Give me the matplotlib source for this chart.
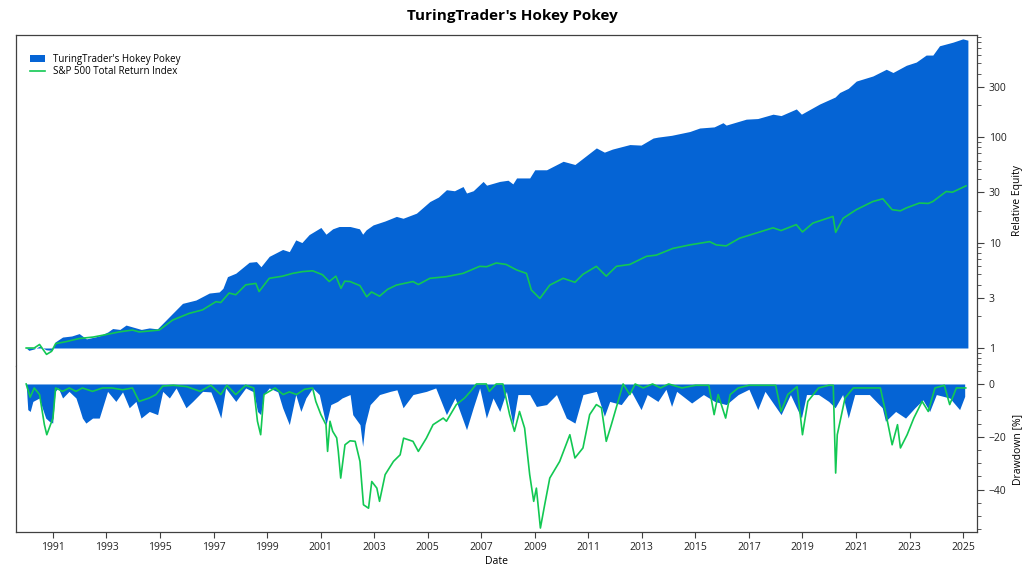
import matplotlib
matplotlib.use('Agg')
import matplotlib.pyplot as plt
from matplotlib.patches import Patch
from matplotlib.lines import Line2D
from matplotlib.ticker import FixedLocator, LogLocator, MultipleLocator, NullFormatter

# dados (ano decimal, valor)
anos_est = [1990.0, 1990.1, 1990.3, 1990.5, 1990.75, 1990.98, 1991.08, 1991.36, 1991.7, 1991.98,
            1992.25, 1992.73, 1993.05, 1993.23, 1993.5, 1993.73, 1994.3, 1994.6, 1994.9, 1995.1,
            1995.47, 1995.84, 1996.34, 1996.84, 1997.21, 1997.35, 1997.52, 1997.83, 1998.33, 1998.6,
            1998.77, 1999.08, 1999.58, 1999.83, 2000.07, 2000.3, 2000.57, 2001.01, 2001.2, 2001.45,
            2001.69, 2002.1, 2002.45, 2002.57, 2002.7, 2002.96, 2003.4, 2003.83, 2004.08, 2004.58,
            2005.08, 2005.4, 2005.7, 2006.0, 2006.32, 2006.45, 2006.7, 2007.07, 2007.2, 2007.69,
            2008.0, 2008.18, 2008.32, 2008.81, 2009.0, 2009.44, 2010.06, 2010.5, 2010.8, 2011.3,
            2011.6, 2011.9, 2012.55, 2012.97, 2013.42, 2013.6, 2014.11, 2014.79, 2015.16, 2015.7,
            2016.03, 2016.15, 2016.9, 2017.33, 2017.9, 2018.2, 2018.77, 2018.96, 2019.64, 2020.22,
            2020.39, 2020.71, 2021.01, 2021.63, 2022.13, 2022.38, 2022.88, 2023.25, 2023.62, 2023.87,
            2024.12, 2024.62, 2024.99, 2025.18]
equity_est = [1.0, 0.95, 0.98, 1.04, 0.96, 0.95, 1.14, 1.27, 1.3, 1.37,
              1.22, 1.3, 1.42, 1.53, 1.5, 1.65, 1.5, 1.55, 1.52, 1.71,
              2.13, 2.65, 2.85, 3.32, 3.4, 3.68, 4.75, 5.12, 6.5, 6.6,
              5.9, 7.4, 8.6, 8.2, 10.6, 10.0, 11.9, 13.9, 12.0, 13.5,
              14.2, 14.2, 13.5, 12.0, 13.2, 14.7, 16.0, 17.7, 17.0, 19.0,
              24.5, 27, 31.7, 31, 34, 29.5, 31, 38, 35, 38,
              39, 36, 41, 41, 49, 49, 59, 55, 63, 79,
              72, 77, 85, 84, 98, 100, 104, 113, 122, 125,
              137, 130, 148, 150, 165, 160, 185, 165, 206, 240,
              265, 290, 340, 380, 440, 410, 480, 515, 600, 600,
              735, 795, 855, 830]

anos_spx = [1990.0, 1990.3, 1990.5, 1990.76, 1990.95, 1991.1, 1991.5, 1991.98, 1992.5, 1992.85,
            1993.47, 1993.97, 1994.22, 1994.97, 1995.47, 1996.09, 1996.59, 1997.09, 1997.27, 1997.58,
            1997.83, 1998.2, 1998.58, 1998.7, 1999.08, 1999.58, 1999.95, 2000.32, 2000.7, 2001.07,
            2001.32, 2001.57, 2001.76, 2001.9, 2002.1, 2002.47, 2002.72, 2002.9, 2003.2, 2003.5,
            2003.83, 2004.45, 2004.65, 2005.08, 2005.7, 2006.32, 2006.94, 2007.2, 2007.56, 2007.93,
            2008.32, 2008.69, 2008.87, 2009.19, 2009.56, 2010.06, 2010.5, 2010.8, 2011.3, 2011.67,
            2012.05, 2012.55, 2013.17, 2013.54, 2014.16, 2014.79, 2015.53, 2015.78, 2016.15, 2016.65,
            2017.27, 2017.9, 2018.2, 2018.77, 2019.0, 2019.39, 2020.14, 2020.24, 2020.52, 2021.01,
            2021.63, 2022.0, 2022.35, 2022.66, 2022.88, 2023.37, 2023.7, 2023.87, 2024.37, 2024.6,
            2025.11]
equity_spx = [1.0, 1.0, 1.08, 0.87, 0.93, 1.10, 1.15, 1.23, 1.27, 1.32,
              1.42, 1.48, 1.42, 1.48, 1.84, 2.13, 2.3, 2.75, 2.7, 3.32,
              3.2, 3.97, 4.1, 3.43, 4.58, 4.8, 5.1, 5.3, 5.4, 4.95,
              4.27, 4.8, 3.68, 4.3, 4.27, 3.9, 3.06, 3.4, 3.1, 3.6,
              3.95, 4.27, 4.0, 4.58, 4.75, 5.1, 5.95, 5.9, 6.4, 6.2,
              5.5, 5.1, 3.55, 2.95, 3.95, 4.58, 4.2, 5.0, 5.95, 4.8,
              5.95, 6.2, 7.4, 7.6, 8.8, 9.5, 10.2, 9.5, 9.3, 11,
              12.3, 13.8, 13.0, 14.8, 12.6, 15.3, 17.7, 12.5, 17, 20.5,
              24.5, 26, 20.5, 20.0, 21.3, 23.7, 23.5, 24.5, 30.5, 30,
              34.5]

anos_dd_est = [1990.0, 1990.06, 1990.15, 1990.25, 1990.49, 1990.6, 1990.73, 1990.86, 1990.99, 1991.08,
               1991.2, 1991.36, 1991.6, 1991.86, 1991.98, 1992.1, 1992.23, 1992.48, 1992.73, 1992.85,
               1993.04, 1993.35, 1993.6, 1993.85, 1994.1, 1994.29, 1994.6, 1994.91, 1995.1, 1995.35,
               1995.6, 1995.97, 1996.22, 1996.59, 1996.9, 1997.09, 1997.27, 1997.45, 1997.83, 1998.2,
               1998.5, 1998.64, 1998.76, 1998.88, 1999.08, 1999.4, 1999.58, 1999.83, 2000.07, 2000.26,
               2000.45, 2000.7, 2000.95, 2001.2, 2001.38, 2001.63, 2001.8, 2002.1, 2002.2, 2002.47,
               2002.57, 2002.66, 2002.85, 2003.2, 2003.6, 2003.85, 2004.08, 2004.45, 2004.95, 2005.3,
               2005.7, 2006.02, 2006.45, 2006.7, 2006.94, 2007.19, 2007.44, 2007.69, 2007.94, 2008.18,
               2008.37, 2008.81, 2009.06, 2009.44, 2009.81, 2010.18, 2010.5, 2010.8, 2011.3, 2011.6,
               2011.8, 2012.23, 2012.6, 2012.97, 2013.2, 2013.6, 2013.9, 2014.11, 2014.3, 2014.86,
               2015.3, 2015.72, 2016.15, 2016.6, 2017.0, 2017.33, 2017.6, 2018.2, 2018.55, 2018.96,
               2019.15, 2019.6, 2019.98, 2020.22, 2020.5, 2020.71, 2020.95, 2021.5, 2021.98, 2022.1,
               2022.48, 2022.85, 2023.2, 2023.5, 2023.75, 2024.0, 2024.5, 2024.87, 2025.06]
dd_est = [0, -9.7, -10.4, -6.6, -5.3, -9, -12.9, -14.1, -14.8, -2.8,
          -1.5, -5.3, -2.8, -5.3, -9, -12.9, -14.8, -12.9, -12.9, -9,
          -2.8, -6.6, -3, -9, -6.6, -12.9, -10.4, -11.6, -2.8, -5.3,
          -1.5, -9, -6.6, -2.8, -3, -7.8, -12.9, -1.5, -6.6, -1.5,
          -3, -10.4, -11.6, -4, -1.5, -3, -9, -15.4, -4, -10.4,
          -5.3, -1.5, -4, -15.4, -7.8, -6.6, -5.3, -4, -11.6, -15.4,
          -23.6, -15.4, -7.8, -4, -2.8, -2.2, -9, -4, -2.8, -1.5,
          -11.6, -5.3, -17.3, -9, -1.5, -12.9, -5.3, -10.4, -2.8, -15.4,
          -4, -4, -8.5, -7.8, -4, -12.9, -14.8, -4, -2.8, -12.2,
          -6.6, -7.8, -2.8, -9.7, -4, -6.6, -2, -8.5, -2.8, -7.2,
          -4, -6.6, -7.8, -4, -2, -9.7, -2.8, -11.6, -4, -12.9,
          -4, -4, -6.6, -9, -4, -12.9, -4, -4, -9, -14.1,
          -10.4, -12.9, -9, -6, -10.4, -4, -5.3, -9.7, -4.7]

anos_dd_spx = [1990.0, 1990.15, 1990.3, 1990.5, 1990.68, 1990.77, 1990.86, 1991.0, 1991.1, 1991.36,
               1991.61, 1991.86, 1992.1, 1992.48, 1992.85, 1993.2, 1993.6, 1993.97, 1994.22, 1994.6,
               1994.85, 1995.1, 1995.5, 1996.0, 1996.5, 1996.9, 1997.27, 1997.5, 1997.83, 1998.2,
               1998.5, 1998.64, 1998.76, 1998.88, 1999.3, 1999.6, 1999.83, 2000.1, 2000.4, 2000.7,
               2000.82, 2001.01, 2001.2, 2001.26, 2001.35, 2001.45, 2001.6, 2001.66, 2001.75, 2001.91,
               2002.1, 2002.29, 2002.47, 2002.6, 2002.79, 2002.91, 2003.1, 2003.2, 2003.41, 2003.72,
               2003.97, 2004.1, 2004.45, 2004.65, 2004.95, 2005.2, 2005.58, 2005.7, 2006.07, 2006.38,
               2006.6, 2006.82, 2007.19, 2007.3, 2007.56, 2007.81, 2008.06, 2008.24, 2008.43, 2008.62,
               2008.81, 2008.96, 2009.06, 2009.21, 2009.37, 2009.56, 2009.93, 2010.31, 2010.5, 2010.8,
               2011.05, 2011.3, 2011.49, 2011.67, 2011.86, 2012.11, 2012.3, 2012.55, 2012.75, 2013.05,
               2013.4, 2013.7, 2014.0, 2014.5, 2015.0, 2015.5, 2015.7, 2015.85, 2016.13, 2016.3,
               2016.6, 2017.0, 2017.5, 2018.0, 2018.2, 2018.45, 2018.8, 2019.0, 2019.2, 2019.6,
               2019.98, 2020.15, 2020.24, 2020.3, 2020.59, 2020.9, 2021.5, 2021.91, 2022.1, 2022.35,
               2022.55, 2022.66, 2022.91, 2023.16, 2023.47, 2023.7, 2023.95, 2024.3, 2024.5, 2024.75,
               2025.1]
dd_spx = [0, -5, -1.5, -4, -15.4, -19.2, -16.7, -12.9, -1.5, -2.8,
          -1.5, -2.8, -1.5, -2.8, -1.5, -1.5, -2.2, -1.5, -6.6, -5.3,
          -4, -0.8, -0.5, -1, -2.8, -0.5, -4, -0.5, -4, -0.5,
          -1.5, -14.1, -19.2, -4, -1.5, -4, -3, -4, -2, -1.5,
          -6.6, -11.6, -15.4, -25.5, -14.1, -17.9, -20.4, -25.5, -35.6, -23,
          -21.5, -21.7, -29.3, -45.7, -47, -36.9, -39.4, -44.4, -34.3, -29.3,
          -26.8, -20.5, -21.7, -25.5, -20.5, -15.4, -12.9, -14.1, -7.8, -5.3,
          -2.8, 0, 0, -2.8, 0, 0, -11.6, -17.9, -10.4, -16.7,
          -34.3, -44.4, -39.4, -54.5, -45.7, -35.6, -29.3, -19.2, -28, -24.2,
          -11.6, -7.8, -9, -21.7, -15.4, -6.6, 0, -4, 0, -1.5,
          0, -1.5, 0, -1.5, -0.5, -0.5, -11.6, -4, -12.9, -4,
          -1.5, -0.5, -0.5, -0.5, -10.4, -4, -1, -19.2, -6.6, -1.5,
          -0.5, -0.5, -33.7, -19.2, -5.3, -1.5, -1.5, -1.5, -10.4, -23,
          -15.4, -24.2, -19.2, -12.9, -6.6, -10.4, -1.5, -0.5, -7.8, -1.5,
          -1.5]

anos_ticks = list(range(1991, 2026, 2))

azul = '#0564D5'
verde = '#12C853'
cinza = '#404040'

plt.rcParams['font.family'] = ['Open Sans', 'DejaVu Sans']
plt.rcParams['font.size'] = 7.5

fig = plt.figure(figsize=(10.24, 5.76), dpi=100)
ax1 = fig.add_axes([16/1024, 1-366/576, (977-16)/1024, (366-35)/576])
ax2 = fig.add_axes([16/1024, 1-532/576, (977-16)/1024, (532-366)/576], sharex=ax1)

fig.suptitle("TuringTrader's Hokey Pokey", fontsize=11, fontweight='bold', x=0.5, y=0.985)

# painel de cima: equity relativa (escala log)
ax1.fill_between(anos_est, equity_est, 1, color=azul, lw=0, zorder=1)
ax1.plot(anos_spx, equity_spx, color=verde, lw=1.2, zorder=2)
ax1.set_yscale('log')
ax1.set_ylim(0.675, 930)
ax1.yaxis.set_major_locator(FixedLocator([1, 3, 10, 30, 100, 300]))
ax1.yaxis.set_major_formatter(plt.FuncFormatter(lambda v, p: '%g' % v))
ax1.yaxis.set_minor_locator(LogLocator(subs=(2, 4, 5, 6, 7, 8, 9)))
ax1.yaxis.set_minor_formatter(NullFormatter())
ax1.set_ylabel('Relative Equity')

# painel de baixo: drawdown
ax2.fill_between(anos_dd_est, dd_est, 0, color=azul, lw=0, zorder=1)
ax2.plot(anos_dd_spx, dd_spx, color=verde, lw=1.2, zorder=2)
ax2.set_ylim(-56, 6.8)
ax2.yaxis.set_major_locator(FixedLocator([0, -20, -40]))
ax2.yaxis.set_minor_locator(MultipleLocator(5))
ax2.set_ylabel('Drawdown [%]')
ax2.set_xlabel('Date', labelpad=2)

ax2.set_xlim(1989.62, 2025.52)
ax2.set_xticks(anos_ticks)
ax2.set_xticklabels([str(a) for a in anos_ticks])

# formatando eixos
for ax in (ax1, ax2):
    ax.yaxis.tick_right()
    ax.yaxis.set_label_position('right')
    ax.tick_params(axis='y', which='both', left=False, right=True, colors=cinza, labelcolor='#222222')
    ax.tick_params(axis='y', which='major', length=5)
    ax.tick_params(axis='y', which='minor', length=3)
    for s in ax.spines.values():
        s.set_color(cinza)
        s.set_linewidth(0.9)
ax1.spines['bottom'].set_visible(False)
ax2.spines['top'].set_visible(False)
ax1.tick_params(axis='x', which='both', bottom=False, labelbottom=False)
ax2.tick_params(axis='x', length=4, colors=cinza, labelcolor='#222222')

# legenda
handles = [Patch(facecolor=azul, edgecolor='none'),
           Line2D([], [], color=verde, lw=1.2)]
ax1.legend(handles, ["TuringTrader's Hokey Pokey", 'S&P 500 Total Return Index'],
           loc='upper left', bbox_to_anchor=(0.005, 0.97), frameon=False,
           handlelength=1.6, handleheight=0.7, labelspacing=0.15, fontsize=7)

plt.savefig('out.png', dpi=100)
